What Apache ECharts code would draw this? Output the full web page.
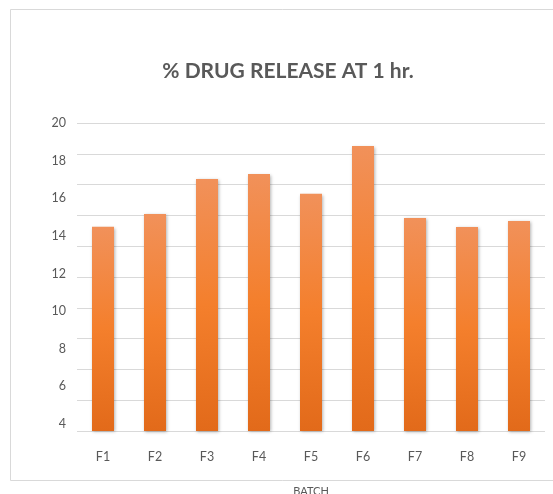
<!DOCTYPE html>
<html>
<head>
<meta charset="utf-8">
<script src="https://cdn.jsdelivr.net/npm/echarts@6/dist/echarts.min.js"></script>
<style>
  html, body { margin: 0; padding: 0; background: #ffffff; }
  #chart { width: 553px; height: 494px; }
</style>
</head>
<body>
<div id="chart"></div>
<script>
// Batches and their % drug release after 1 hour
const batches = ['F1', 'F2', 'F3', 'F4', 'F5', 'F6', 'F7', 'F8', 'F9'];
const release = [14.49, 15.16, 17.02, 17.29, 16.24, 18.78, 14.95, 14.47, 14.79];
// Labelled ticks on the value axis
const releaseTicks = [4, 6, 8, 10, 12, 14, 16, 18, 20];

const FONT = 'Lato, "Open Sans", sans-serif';
const TEXT_GRAY = '#595959';

const chart = echarts.init(document.getElementById('chart'), null, { renderer: 'canvas' });

chart.setOption({
  animation: false,
  backgroundColor: '#ffffff',
  title: {
    text: '% DRUG RELEASE AT 1 hr.',
    left: 283,
    textAlign: 'center',
    top: 56,
    textStyle: { fontFamily: FONT, fontSize: 21, fontWeight: 'bold', color: TEXT_GRAY }
  },
  graphic: [{
    type: 'rect',
    shape: { x: 10.5, y: 9.5, width: 600, height: 471 },
    style: { fill: 'none', stroke: '#d9d9d9', lineWidth: 1 },
    silent: true
  }],
  grid: { left: 77, right: 8, top: 123, bottom: 63, containLabel: false, outerBoundsMode: 'none' },
  xAxis: {
    type: 'category',
    data: batches,
    axisLine: { show: false },
    axisTick: { show: false },
    axisLabel: { margin: 19, fontFamily: FONT, fontSize: 12.5, color: TEXT_GRAY },
    name: 'BATCH',
    nameLocation: 'middle',
    nameGap: 55,
    nameTextStyle: { fontFamily: FONT, fontSize: 11, color: TEXT_GRAY }
  },
  yAxis: [{
    type: 'value',
    min: 3.63,
    max: 20,
    axisLine: { show: false },
    axisTick: { show: false },
    splitLine: { show: false },
    axisLabel: {
      customValues: releaseTicks,
      margin: 11,
      fontFamily: FONT,
      fontSize: 12.5,
      color: TEXT_GRAY
    }
  }, {
    // plain horizontal gridlines across the plot area
    type: 'value',
    min: 0,
    max: 10,
    interval: 1,
    axisLine: { show: false },
    axisTick: { show: false },
    axisLabel: { show: false },
    splitLine: { show: true, lineStyle: { color: '#d9d9d9', width: 1 } }
  }],
  series: [{
    type: 'bar',
    yAxisIndex: 0,
    data: release,
    barWidth: 22,
    itemStyle: {
      color: new echarts.graphic.LinearGradient(0, 0, 0, 1, [
        { offset: 0, color: '#f1915a' },
        { offset: 0.5, color: '#f47f2c' },
        { offset: 1, color: '#e26a1a' }
      ]),
      shadowColor: 'rgba(0,0,0,0.3)',
      shadowBlur: 3,
      shadowOffsetX: 1,
      shadowOffsetY: 1
    }
  }]
});
</script>
</body>
</html>
